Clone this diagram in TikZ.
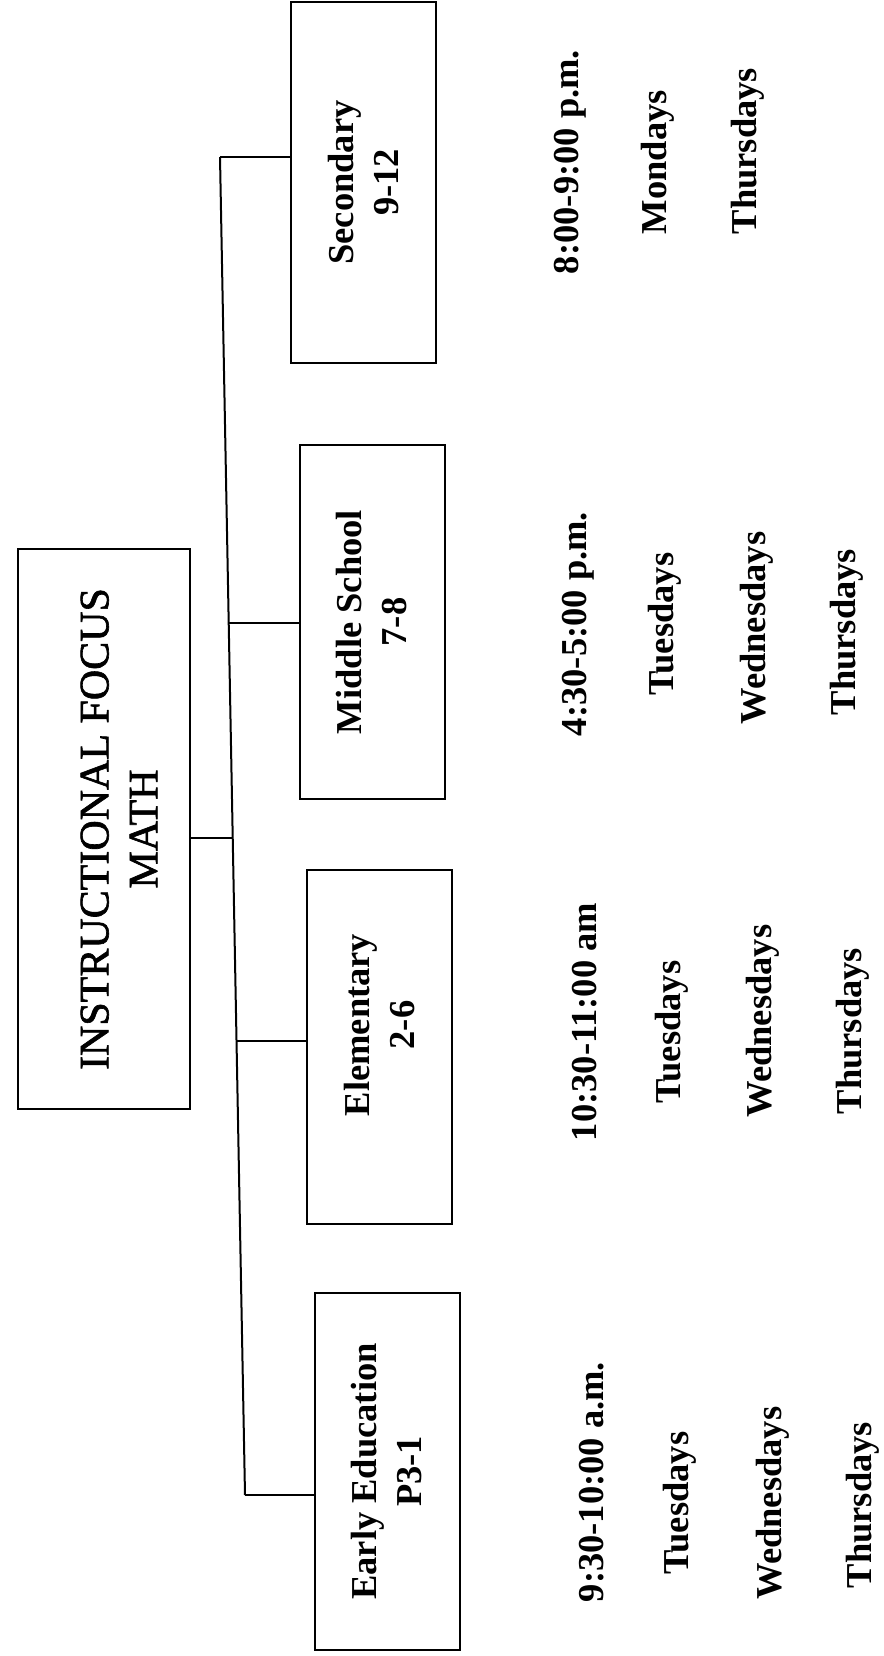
\documentclass[tikz,border=0pt]{standalone}
\usepackage{fontspec}
\setmainfont{Liberation Serif}
\newfontfamily\headfont{Liberation Serif}[FakeBold=1.5]

\tikzset{
  grp/.style={draw, rotate=90, align=center, inner sep=0pt,
    minimum height=145pt, font=\bfseries\fontsize{36.5}{45}\selectfont},
  lbl/.style={rotate=90, inner sep=0pt,
    font=\bfseries\fontsize{36.5}{45}\selectfont}
}

\begin{document}
\begin{tikzpicture}[x=1pt, y=-1pt, line width=2pt]
    \useasboundingbox (0,0) rectangle (883,1656);
    % head box
    \node[draw, rotate=90, minimum width=560pt, minimum height=172pt] (F) at (104,829) {};
    \node[rotate=90, align=center, inner sep=0pt,
      font=\headfont\fontsize{42}{49}\selectfont] (T) at ([xshift=15pt]F.center)
    {INSTRUCTIONAL FOCUS\\MATH};
    % level boxes
    \node[grp, minimum width=361pt] (S) at (363.5,182.5) {Secondary\\9-12};
    \node[grp, minimum width=354pt] (M) at (372,622) {Middle School\\7-8};
    \node[grp, minimum width=354pt] (E) at (379.5,1047)
    {\hspace*{44pt}Elementary\\\hspace*{44pt}2-6};
    \node[grp, minimum width=357pt] (P) at (387,1471.5) {Early Education\\P3-1};
    % connectors
    \coordinate (b1) at (220,157); \coordinate (b2) at (228.7,623);
    \coordinate (bm) at (232.7,838); \coordinate (b3) at (236.5,1041);
    \coordinate (b4) at (245,1495);
    \draw (b1) -- (b4);
    \draw (F.south |- bm) -- (bm);
    \draw (b1) -- (b1 -| S.north); \draw (b2) -- (b2 -| M.north);
    \draw (b3) -- (b3 -| E.north); \draw (b4) -- (b4 -| P.north);
    % times and days
    \node[lbl] (tS) at (570,162) {8:00-9:00 p.m.};
    \node[lbl] (dS1) at (658,162) {Mondays};
    \node[lbl] (dS2) at (748,151) {Thursdays};
    \node[lbl] (tM) at (578,624) {4:30-5:00 p.m.};
    \node[lbl] (dM1) at (665,624) {Tuesdays};
    \node[lbl] (dM2) at (757,628) {Wednesdays};
    \node[lbl] (dM3) at (847,632) {Thursdays};
    \node[lbl] (tE) at (585,1022) {10:30-11:00 am};
    \node[lbl] (dE1) at (672,1032) {Tuesdays};
    \node[lbl] (dE2) at (763,1021) {Wednesdays};
    \node[lbl] (dE3) at (853,1031) {Thursdays};
    \node[lbl] (tP) at (592,1482) {9:30-10:00 a.m.};
    \node[lbl] (dP1) at (680,1503) {Tuesdays};
    \node[lbl] (dP2) at (773,1503) {Wednesdays};
    \node[lbl] (dP3) at (863,1505) {Thursdays};
  \end{tikzpicture}
\end{document}
